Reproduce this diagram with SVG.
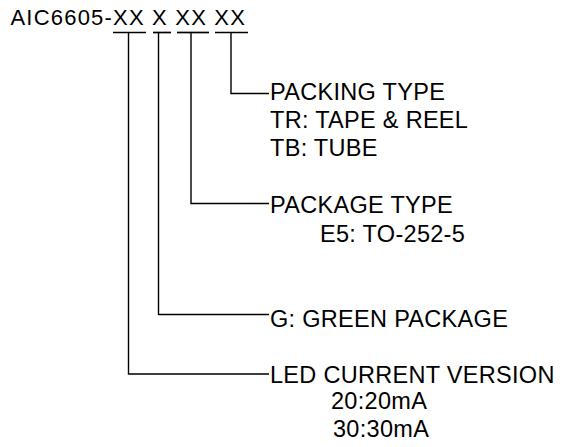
<svg xmlns="http://www.w3.org/2000/svg" width="563" height="447" viewBox="0 0 563 447">
  <style>
    text { font-family: "Liberation Sans", Arial, sans-serif; fill: #000; }
    .hdr { font-size: 22px; letter-spacing: 1.2px; }
    .lbl { font-size: 23.5px; letter-spacing: 0.3px; }
    .ul { stroke: #000; stroke-width: 1.7; fill: none; }
    .conn { stroke: #000; stroke-width: 1.4; fill: none; }
  </style>
  <rect x="0" y="0" width="563" height="447" fill="#fff"/>
  <g id="header">
    <text class="hdr" x="10.5" y="25">AIC6605-XX X XX XX</text>
    <line class="ul" x1="113" y1="32.5" x2="146" y2="32.5"/>
    <line class="ul" x1="153" y1="32.5" x2="171" y2="32.5"/>
    <line class="ul" x1="177" y1="32.5" x2="209" y2="32.5"/>
    <line class="ul" x1="215" y1="32.5" x2="248" y2="32.5"/>
  </g>
  <g id="connectors">
    <polyline class="conn" points="231,33 231,93.5 269,93.5"/>
    <polyline class="conn" points="191,33 191,203.5 269,203.5"/>
    <polyline class="conn" points="158.5,33 158.5,314.5 269,314.5"/>
    <polyline class="conn" points="128.5,33 128.5,374 269,374"/>
  </g>
  <g id="packing-type">
    <text class="lbl" x="270" y="100">PACKING TYPE</text>
    <text class="lbl" x="270" y="128">TR: TAPE &amp; REEL</text>
    <text class="lbl" x="270" y="156">TB: TUBE</text>
  </g>
  <g id="package-type">
    <text class="lbl" x="270" y="213">PACKAGE TYPE</text>
    <text class="lbl" x="320" y="242">E5: TO-252-5</text>
  </g>
  <g id="green-package">
    <text class="lbl" x="270" y="327">G: GREEN PACKAGE</text>
  </g>
  <g id="led-current">
    <text class="lbl" x="270" y="382.5">LED CURRENT VERSION</text>
    <text class="lbl" x="331" y="409">20:20mA</text>
    <text class="lbl" x="333" y="437">30:30mA</text>
  </g>
</svg>
